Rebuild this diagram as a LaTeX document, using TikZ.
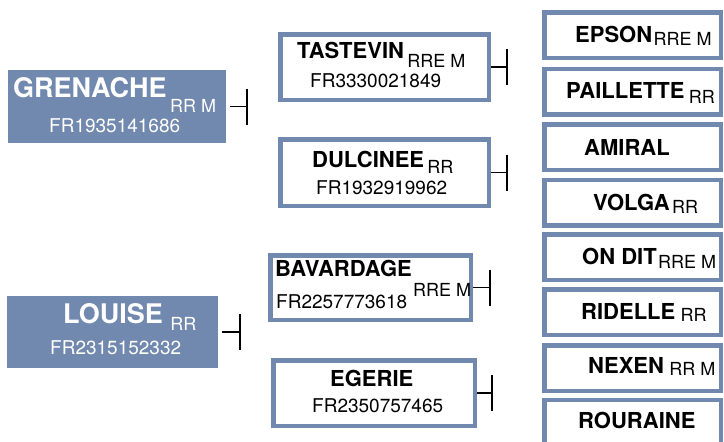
\documentclass[tikz,border=0pt]{standalone}
\usepackage{fontspec}
\setmainfont{TeX Gyre Heros}
\usepackage{xcolor}
\usetikzlibrary{arrows.meta}
\definecolor{steel}{HTML}{7189AE}
\tikzset{parentbox/.style={draw=steel,fill=steel,line width=1pt,outer sep=4pt},
  crossbox/.style={draw=steel,fill=white,line width=4.5pt},
  varbox/.style={draw=steel,fill=white,line width=4.5pt,
  minimum width=176.5pt,minimum height=45.5pt},
  bigname/.style={anchor=base west,inner sep=0pt,text=white,font=\fontsize{27}{29}\selectfont\bfseries},
  varname/.style={anchor=base west,inner sep=0pt,font=\fontsize{22}{24}\selectfont\bfseries},
  vartag/.style={anchor=base west,inner sep=0pt,font=\fontsize{18}{20}\selectfont},
  varid/.style={anchor=base west,inner sep=0pt,font=\fontsize{19}{21}\selectfont},
  tee/.style={-{Bar[width=36pt]},line width=1.6pt}}

\begin{document}
\begin{tikzpicture}[x=1pt,y=-1pt]
\useasboundingbox (0,0) rectangle (724,442);
% parents
\node[parentbox,minimum width=217pt,minimum height=72pt] (grenache) at (117,106.5) {};
\node[bigname] (grenache-name) at (13,97) {GRENACHE};
\node[vartag,text=white,xshift=3pt,yshift=-15pt] (grenache-tag) at (grenache-name.base east) {RR M};
\node[varid,text=white] (grenache-id) at (49,132) {FR1935141686};
\node[parentbox,minimum width=210pt,minimum height=71pt] (louise) at (112.5,332) {};
\node[bigname] (louise-name) at (63,323) {LOUISE};
\node[vartag,text=white,xshift=7pt,yshift=-7pt] (louise-tag) at (louise-name.base east) {RR};
\node[varid,text=white] (louise-id) at (50,354) {FR2315152332};
% crosses
\node[crossbox,minimum width=208.5pt,minimum height=65.5pt] (tastevin) at (384.5,67) {};
\node[varname] (tastevin-name) at (297,58) {TASTEVIN};
\node[vartag,xshift=3pt,yshift=-9pt] (tastevin-tag) at (tastevin-name.base east) {RRE M};
\node[varid] (tastevin-id) at (310,87) {FR3330021849};
\node[crossbox,minimum width=208.5pt,minimum height=66.5pt] (dulcinee) at (384.5,172.5) {};
\node[varname] (dulcinee-name) at (312,167) {DULCINEE};
\node[vartag,xshift=3pt,yshift=-6pt] (dulcinee-tag) at (dulcinee-name.base east) {RR};
\node[varid] (dulcinee-id) at (316,194) {FR1932919962};
\node[crossbox,minimum width=200.5pt,minimum height=64.5pt] (bavardage) at (370.5,287.5) {};
\node[varname] (bavardage-name) at (275,276) {BAVARDAGE};
\node[vartag] (bavardage-tag) at (413,296) {RRE M};
\node[varid] (bavardage-id) at (276,308) {FR2257773618};
\node[crossbox,minimum width=201.5pt,minimum height=65.5pt] (egerie) at (374,393) {};
\node[varname] (egerie-name) at (330,386) {EGERIE};
\node[varid] (egerie-id) at (312,412) {FR2350757465};
% varieties
\node[varbox] (epson) at (632.5,35) {};
\node[varname] (epson-name) at (575,42) {EPSON};
\node[vartag,xshift=1pt,yshift=-3pt] (epson-tag) at (epson-name.base east) {RRE M};
\node[varbox] (paillette) at (632.5,91.5) {};
\node[varname] (paillette-name) at (566,98) {PAILLETTE};
\node[vartag,xshift=4pt,yshift=-5pt] (paillette-tag) at (paillette-name.base east) {RR};
\node[varbox] (amiral) at (632.5,147) {};
\node[varname] (amiral-name) at (584,155) {AMIRAL};
\node[varbox] (volga) at (632.5,202.5) {};
\node[varname] (volga-name) at (593,210) {VOLGA};
\node[vartag,xshift=2pt,yshift=-3pt] (volga-tag) at (volga-name.base east) {RR};
\node[varbox] (ondit) at (632.5,257) {};
\node[varname] (ondit-name) at (582,264) {ON DIT};
\node[vartag,xshift=1pt,yshift=-4pt] (ondit-tag) at (ondit-name.base east) {RRE M};
\node[varbox] (ridelle) at (632.5,312) {};
\node[varname] (ridelle-name) at (581,319) {RIDELLE};
\node[vartag,xshift=5pt,yshift=-2pt] (ridelle-tag) at (ridelle-name.base east) {RR};
\node[varbox] (nexen) at (632.5,368) {};
\node[varname] (nexen-name) at (588,373) {NEXEN};
\node[vartag,xshift=5pt,yshift=-2pt] (nexen-tag) at (nexen-name.base east) {RR M};
\node[varbox] (rouraine) at (632.5,422.5) {};
\node[varname] (rouraine-name) at (578,428) {ROURAINE};
% tees
\coordinate (grenache-end) at (248,106.5);
\coordinate (louise-end) at (241,332);
\coordinate (tastevin-end) at (508,67);
\coordinate (dulcinee-end) at (508,172.5);
\coordinate (bavardage-end) at (491,287.5);
\coordinate (egerie-end) at (493,393);
\draw[tee] (grenache.east) -- (grenache-end);
\draw[tee] (louise.east) -- (louise-end);
\draw[tee] (tastevin.east) -- (tastevin-end);
\draw[tee] (dulcinee.east) -- (dulcinee-end);
\draw[tee] (bavardage.east) -- (bavardage-end);
\draw[tee] (egerie.east) -- (egerie-end);
\end{tikzpicture}
\end{document}
